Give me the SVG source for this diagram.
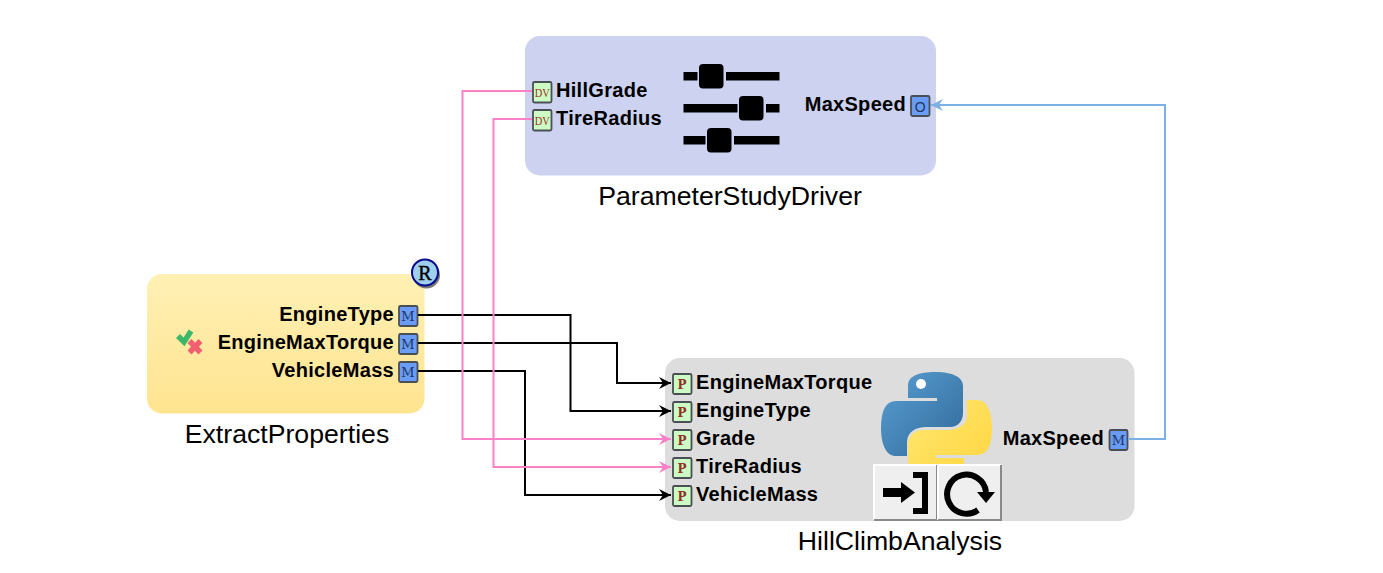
<svg xmlns="http://www.w3.org/2000/svg" width="1383" height="573" viewBox="0 0 1383 573">
<style>
.lbl{font:bold 20px "Liberation Sans",Arial,sans-serif;letter-spacing:.3px;fill:#000}
.end{text-anchor:end}
.title{font:26.670px "Liberation Sans",Arial,sans-serif;fill:#000;text-anchor:middle}
.port{stroke:#4a4f55;stroke-width:1.8}
.pm{fill:#6a9cf6}
.pg{fill:#ccfcc4}
.pt{font:13px "DejaVu Serif","Liberation Serif",serif;text-anchor:middle}
.dv{font:13px "Liberation Serif","DejaVu Serif",serif;text-anchor:middle;fill:#9c2f28}
.pm-t{fill:#1c355f}
.pp-t{fill:#8f2f26;font-weight:bold;font-size:12px}
.wire{fill:none;stroke-width:2}
.k{stroke:#000}
.p{stroke:#fb82c8}
.b{stroke:#7cb0e6}
.bar{fill:#000}
</style>
<defs>
<linearGradient id="yellow" x1="0" y1="0" x2="0" y2="1"><stop offset="0" stop-color="#fff0b4"/><stop offset="1" stop-color="#ffe490"/></linearGradient>
<linearGradient id="pyb" x1="0" y1="0" x2="1" y2="1"><stop offset="0" stop-color="#5a9fd4"/><stop offset="1" stop-color="#306998"/></linearGradient>
<linearGradient id="pyy" x1="0" y1="0" x2="1" y2="1"><stop offset="0" stop-color="#ffe873"/><stop offset="1" stop-color="#ffd43b"/></linearGradient>
<marker id="ak" markerUnits="userSpaceOnUse" markerWidth="14" markerHeight="14" refX="13" refY="7" orient="auto"><path d="M1 1L13 7L1 13L5 7Z" fill="#000"/></marker>
<marker id="ap" markerUnits="userSpaceOnUse" markerWidth="14" markerHeight="14" refX="13" refY="7" orient="auto"><path d="M1 1L13 7L1 13L5 7Z" fill="#fb82c8"/></marker>
<marker id="ab" markerUnits="userSpaceOnUse" markerWidth="14" markerHeight="14" refX="13" refY="7" orient="auto"><path d="M1 1L13 7L1 13L5 7Z" fill="#7cb0e6"/></marker>
</defs>
<rect width="1383" height="573" fill="#fff"/>

<g id="node-ParameterStudyDriver">
<rect x="525" y="36" width="411" height="139.500" rx="15" fill="#ccd2f0"/>
<rect class="port pg" x="533" y="82" width="18.500" height="20.500" rx="1.500"/><text class="dv" x="542.300" y="96.500" textLength="15" lengthAdjust="spacingAndGlyphs">DV</text>
<rect class="port pg" x="533" y="110" width="18.500" height="20.500" rx="1.500"/><text class="dv" x="542.300" y="124.500" textLength="15" lengthAdjust="spacingAndGlyphs">DV</text>
<text class="lbl" x="556" y="97">HillGrade</text>
<text class="lbl" x="556" y="125">TireRadius</text>
<g class="bar">
<rect x="683.500" y="72" width="14" height="8.500"/><rect x="726" y="72" width="53.500" height="8.500"/><rect x="699" y="64" width="24.500" height="24.500" rx="4"/>
<rect x="683.500" y="104" width="54" height="8.500"/><rect x="766" y="104" width="13.500" height="8.500"/><rect x="739" y="96" width="24.500" height="24.500" rx="4"/>
<rect x="683.500" y="136" width="22" height="8.500"/><rect x="734" y="136" width="45.500" height="8.500"/><rect x="707" y="128" width="24.500" height="24.500" rx="4"/>
</g>
<text class="lbl end" x="906" y="111">MaxSpeed</text>
<rect class="port pm" x="911" y="96" width="18.500" height="20" rx="1.500"/><text x="920.300" y="111.500" text-anchor="middle" fill="#1c355f" style="font:14px 'Liberation Sans',sans-serif">O</text>
<text class="title" x="730" y="205">ParameterStudyDriver</text>
</g>

<g id="node-ExtractProperties">
<rect x="147" y="274" width="277.500" height="139.500" rx="15" fill="url(#yellow)"/>
<circle cx="426.500" cy="275" r="13.500" fill="#777"/>
<circle cx="425" cy="272.500" r="13" fill="#9ed0ee" stroke="#0a0a8c" stroke-width="2"/>
<text x="425" y="279.500" text-anchor="middle" stroke="#000" stroke-width=".4" style="font:20px 'Liberation Serif',serif">R</text>
<path d="M178 336L184 342L191 331" fill="none" stroke="#3cb868" stroke-width="5.500"/>
<path d="M189.500 341L200.500 352.500M200.500 341L189.500 352.500" fill="none" stroke="#f06070" stroke-width="5.500"/>
<text class="lbl end" x="394" y="321">EngineType</text>
<text class="lbl end" x="394" y="349" letter-spacing=".45">EngineMaxTorque</text>
<text class="lbl end" x="394" y="377">VehicleMass</text>
<rect class="port pm" x="399" y="306" width="18.500" height="20" rx="1.500"/><text class="pt pm-t" x="408" y="321">M</text>
<rect class="port pm" x="399" y="334" width="18.500" height="20" rx="1.500"/><text class="pt pm-t" x="408" y="349">M</text>
<rect class="port pm" x="399" y="362" width="18.500" height="20" rx="1.500"/><text class="pt pm-t" x="408" y="377">M</text>
<text class="title" x="287" y="443">ExtractProperties</text>
</g>

<g id="node-HillClimbAnalysis">
<rect x="665" y="358" width="469.500" height="163" rx="15" fill="#dddddd"/>
<rect class="port pg" x="673" y="374" width="18.500" height="20" rx="1.500"/><text class="pt pp-t" x="682" y="388.500">P</text>
<rect class="port pg" x="673" y="402" width="18.500" height="20" rx="1.500"/><text class="pt pp-t" x="682" y="416.500">P</text>
<rect class="port pg" x="673" y="430" width="18.500" height="20" rx="1.500"/><text class="pt pp-t" x="682" y="444.500">P</text>
<rect class="port pg" x="673" y="458" width="18.500" height="20" rx="1.500"/><text class="pt pp-t" x="682" y="472.500">P</text>
<rect class="port pg" x="673" y="486" width="18.500" height="20" rx="1.500"/><text class="pt pp-t" x="682" y="500.500">P</text>
<text class="lbl" x="696" y="389" letter-spacing=".45">EngineMaxTorque</text>
<text class="lbl" x="696" y="417">EngineType</text>
<text class="lbl" x="696" y="445">Grade</text>
<text class="lbl" x="696" y="473">TireRadius</text>
<text class="lbl" x="696" y="501">VehicleMass</text>
<path d="M936 372C918 372 908 376 908 386V398H937V401H896C886 401 881 410 881 428C881 446 887 456 896 456H907V442C907 432 916 427 926 427H950C958 427 963 421 963 413V386C963 377 952 372 936 372Z" fill="url(#pyb)"/>
<circle cx="921" cy="384" r="5" fill="#fff"/>
<path d="M937 484C955 484 964 480 964 470V458H936V455H977C987 455 992 446 992 428C992 410 986 400 977 400H967V416C967 425 957 430 947 430H923C915 430 908 436 908 444V470C908 479 921 484 937 484Z" fill="url(#pyy)"/>
<rect x="874" y="465" width="63" height="55.500" fill="#efefef"/>
<path d="M874 520V465H937" fill="none" stroke="#fff" stroke-width="2"/>
<path d="M874 520H937V465" fill="none" stroke="#8a8a8a" stroke-width="2"/>
<rect x="938" y="465" width="63" height="55.500" fill="#efefef"/>
<path d="M938 520V465H1001" fill="none" stroke="#fff" stroke-width="2"/>
<path d="M938 520H1001V465" fill="none" stroke="#8a8a8a" stroke-width="2"/>
<path d="M883 488H901V482L915 492.500L901 503V497H883Z" fill="#000"/>
<path d="M913 475H925V511H913" fill="none" stroke="#000" stroke-width="6"/>
<path d="M986 492A19.500 19.500 0 1 0 978 510" fill="none" stroke="#000" stroke-width="6"/>
<path d="M977 492H995L986 503Z" fill="#000"/>
<text class="lbl end" x="1104" y="445">MaxSpeed</text>
<rect class="port pm" x="1109.500" y="430" width="18" height="20" rx="1.500"/><text class="pt pm-t" x="1118.500" y="445">M</text>
<text class="title" x="900" y="550">HillClimbAnalysis</text>
</g>

<g id="connectors">
<path class="wire k" marker-end="url(#ak)" d="M418 315H570.500V411H671"/>
<path class="wire k" marker-end="url(#ak)" d="M418 343H617V383H671"/>
<path class="wire k" marker-end="url(#ak)" d="M418 371H525V495H671"/>
<path class="wire p" marker-end="url(#ap)" d="M532 91H462.500V439H671"/>
<path class="wire p" marker-end="url(#ap)" d="M532 119H493.500V467H671"/>
<path class="wire b" marker-end="url(#ab)" d="M1128 439H1165V105H931"/>
</g>
</svg>
